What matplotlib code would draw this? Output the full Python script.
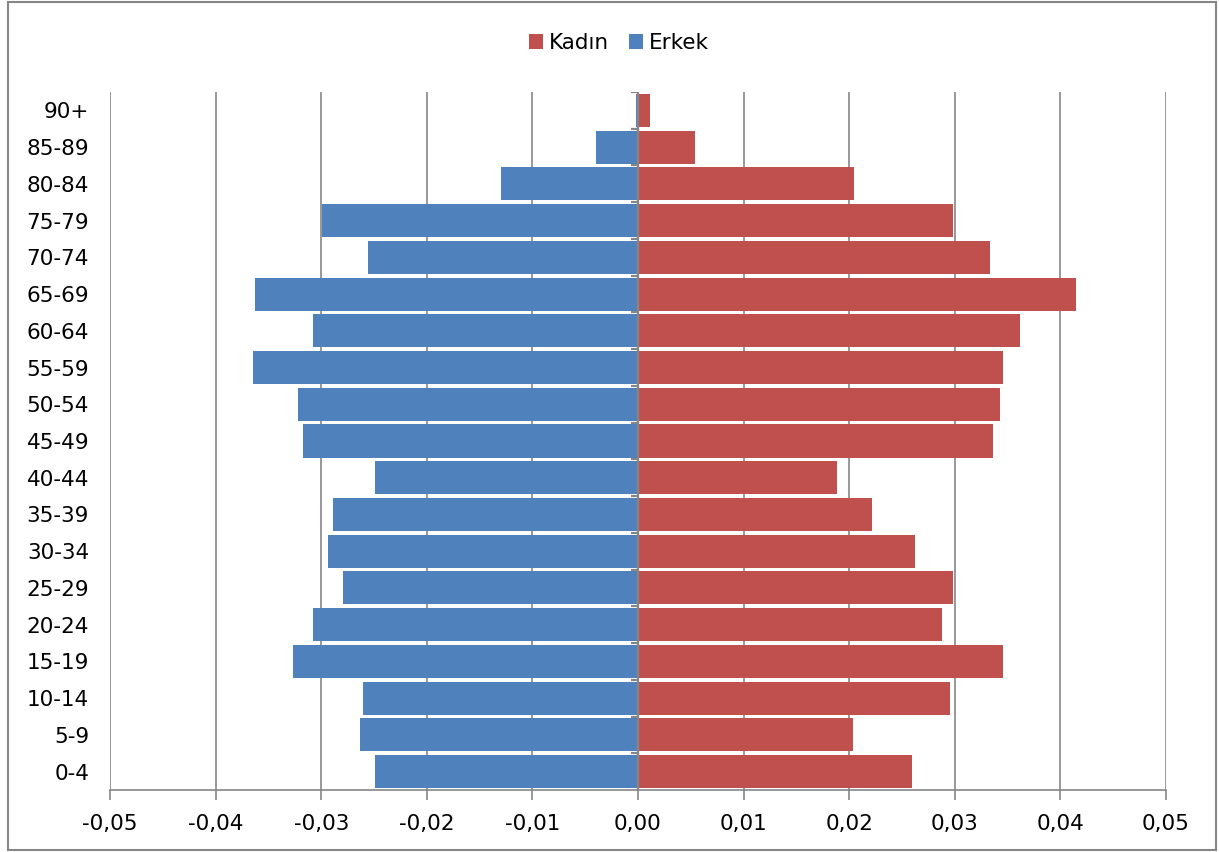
import matplotlib.pyplot as plt
from matplotlib.patches import Rectangle
from matplotlib.ticker import FuncFormatter, MultipleLocator

age_groups = ["0-4", "5-9", "10-14", "15-19", "20-24", "25-29", "30-34", "35-39",
              "40-44", "45-49", "50-54", "55-59", "60-64", "65-69", "70-74",
              "75-79", "80-84", "85-89", "90+"]

kadin = [0.0259, 0.0204, 0.0295, 0.0346, 0.0288, 0.0298, 0.0262, 0.0222,
         0.0188, 0.0336, 0.0343, 0.0346, 0.0362, 0.0415, 0.0333,
         0.0298, 0.0205, 0.0054, 0.0011]

erkek = [-0.0249, -0.0263, -0.0260, -0.0327, -0.0308, -0.0279, -0.0294, -0.0289,
         -0.0249, -0.0317, -0.0322, -0.0365, -0.0308, -0.0363, -0.0256,
         -0.0299, -0.0130, -0.0040, -0.0002]

RED = "#C0504D"
BLUE = "#4F81BD"
GRID = "#868686"
FS = 15.5

plt.rcParams["font.family"] = ["DejaVu Sans"]


def comma_fmt(v, p):
    if abs(v) < 1e-9:
        v = 0.0
    return f"{v:.2f}".replace(".", ",")


fig = plt.figure(figsize=(12.19, 8.52), dpi=100)
ax = fig.add_axes([110 / 1219, 1 - 790 / 852, 1056 / 1219, 698 / 852])

pos = list(range(len(age_groups)))
ax.barh(pos, kadin, height=0.9, color=RED, label="Kadın", zorder=3)
ax.barh(pos, erkek, height=0.9, color=BLUE, label="Erkek", zorder=3)

ax.set_xlim(-0.05, 0.05)
ax.set_ylim(-0.5, len(age_groups) - 0.5)
ax.xaxis.set_major_locator(MultipleLocator(0.01))
ax.xaxis.set_major_formatter(FuncFormatter(comma_fmt))
ax.grid(axis="x", color=GRID, linewidth=1.2, zorder=0)

ax.set_yticks(pos)
ax.set_yticklabels(age_groups)
ax.tick_params(axis="y", length=0, pad=15, labelsize=FS)
ax.tick_params(axis="x", length=7, color=GRID, width=1.2, pad=10, labelsize=FS)

for side in ["top", "right", "left"]:
    ax.spines[side].set_visible(False)
ax.spines["bottom"].set_color(GRID)
ax.spines["bottom"].set_linewidth(1.2)

# central category axis with its tick marks
ax.axvline(0, color=GRID, linewidth=1.6, zorder=4)
bounds = [p + 0.5 for p in pos]
ax.hlines(bounds, -0.0007, 0, color=GRID, linewidth=1.6, zorder=4)

ax.legend(loc="upper center", bbox_to_anchor=(0.482, 1.097), ncol=2, frameon=False,
          fontsize=FS, handlelength=0.65, handleheight=0.65, handletextpad=0.3,
          columnspacing=0.9, borderaxespad=0)

fig.add_artist(Rectangle((8 / 1219, 2 / 852), 1208 / 1219, 848 / 852,
                         transform=fig.transFigure, fill=False,
                         edgecolor=GRID, linewidth=1.5))

fig.savefig("out.png", dpi=100)
